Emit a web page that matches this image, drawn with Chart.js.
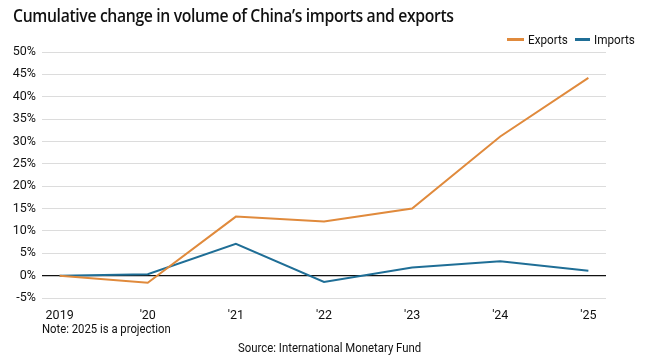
<!DOCTYPE html>
<html><head><meta charset="utf-8">
<script src="https://cdn.jsdelivr.net/npm/chart.js@4"></script>
<style>
html,body{margin:0;padding:0;background:#fff;}
#wrap{position:relative;width:660px;height:359px;overflow:hidden;}
#c{position:absolute;left:0;top:0;}
.t{position:absolute;white-space:nowrap;color:#111;}
#title{left:13px;top:3px;font:600 18px "Open Sans",sans-serif;letter-spacing:-0.4px;transform:scaleX(0.875);transform-origin:0 0;}
#note{left:42px;top:321px;font:13px Roboto,sans-serif;transform:scaleX(0.87);transform-origin:0 0;}
#src{left:238px;top:340px;font:13px Roboto,sans-serif;transform:scaleX(0.875);transform-origin:0 0;}
#legend{left:507px;top:32px;font:13px Roboto,sans-serif;display:flex;align-items:center;}
.sw{display:inline-block;width:17px;height:2.5px;margin-right:4px;}
.lt{display:inline-block;transform:scaleX(0.9);transform-origin:0 50%;}
</style></head><body>
<div id="wrap">
<canvas id="c" width="660" height="359"></canvas>
<div class="t" id="title">Cumulative change in volume of China’s imports and exports</div>
<div class="t" id="legend"><span class="sw" style="background:#e08a3c"></span><span class="lt" style="width:40px">Exports</span><span style="width:7px;display:inline-block"></span><span class="sw" style="background:#1f6e96;width:15px"></span><span class="lt">Imports</span></div>
<div class="t" id="note">Note: 2025 is a projection</div>
<div class="t" id="src">Source: International Monetary Fund</div>
</div>
<script>
const years = [2019, 2020, 2021, 2022, 2023, 2024, 2025];
const yearLabels = ["2019", "'20", "'21", "'22", "'23", "'24", "'25"];
const exportsPct = [0, -1.6, 13.2, 12.1, 15.0, 31.1, 44.2];
const importsPct = [0, 0.3, 7.1, -1.4, 1.8, 3.2, 1.1];
const yTicks = [-5, 0, 5, 10, 15, 20, 25, 30, 35, 40, 45, 50];

const tickFont = {family: 'Roboto', size: 12.5};
new Chart(document.getElementById('c'), {
  type: 'line',
  data: {
    datasets: [
      {label: 'Exports', data: years.map((y,i)=>({x:y, y:exportsPct[i]})), borderColor: '#e08a3c', borderWidth: 2, pointRadius: 0, tension: 0},
      {label: 'Imports', data: years.map((y,i)=>({x:y, y:importsPct[i]})), borderColor: '#1f6e96', borderWidth: 2, pointRadius: 0, tension: 0}
    ]
  },
  options: {
    responsive: false, animation: false,
    layout: {padding: {top: 52, right: 54, left: 0, bottom: 0}},
    plugins: {legend: {display: false}, tooltip: {enabled: false}},
    scales: {
      x: {
        type: 'linear', min: 2018.8, max: 2025.2,
        afterBuildTicks: s => { s.ticks = years.map(v => ({value: v})); },
        afterFit: s => { s.height = 61; },
        grid: {display: false}, border: {display: false},
        ticks: {font: tickFont, color: '#111', padding: 2, maxRotation: 0, autoSkip: false,
          callback: (v) => yearLabels[years.indexOf(v)]}
      },
      y: {
        min: -5, max: 50,
        afterBuildTicks: s => { s.ticks = yTicks.map(v => ({value: v})); },
        afterFit: s => { s.width = 42; },
        border: {display: false},
        grid: {drawTicks: false, color: c => c.tick && c.tick.value === 0 ? '#111' : '#dcdcdc', lineWidth: c => c.tick && c.tick.value === 0 ? 1.2 : 1},
        ticks: {font: tickFont, color: '#111', padding: 6, callback: v => v + '%'}
      }
    }
  }
});
</script>
</body></html>
